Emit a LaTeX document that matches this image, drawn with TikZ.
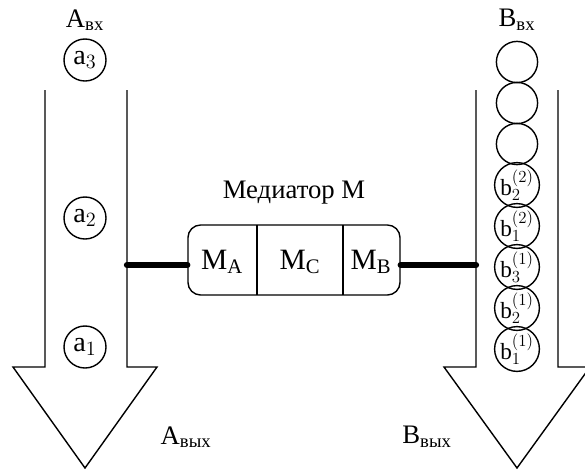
\documentclass[tikz,border=0pt]{standalone}
\usepackage{fontspec}
\setmainfont{Liberation Serif}
\usetikzlibrary{positioning}

\tikzset{
  ball/.style={draw, circle, line width=1pt, minimum size=1.03cm, inner sep=0pt, font=\fontsize{16.5}{16}\selectfont},
  flow/.style={line width=1pt, line join=miter},
  link/.style={line width=4.5pt, line cap=round},
  lbl/.style={font=\fontsize{19}{20}\selectfont, inner sep=0pt},
  part/.style={font=\fontsize{21}{22}\selectfont, inner sep=0pt},
}
\newcommand{\bb}[2]{b$_{#1}^{(#2)}$}

\begin{document}
\begin{tikzpicture}[x=0.025cm, y=-0.025cm]
		\useasboundingbox (0,0) rectangle (585,475);
		
		% the two flows
		\draw[flow] (45,90) -- (45,367) -- (13,367) -- (85,468) -- (157,367) -- (127,367) -- (127,90);
		\draw[flow] (476,90) -- (476,367) -- (444,367) -- (517,468) -- (590,367) -- (558,367) -- (558,90);
		\coordinate (aR) at (127,265);
		\coordinate (bL) at (476,265);
		
		\node[lbl] (ain) at (85,20) {A\textsubscript{вх}};
		\node[lbl] (bin) at (517,20) {B\textsubscript{вх}};
		\node[lbl] (aout) at (186,437) {A\textsubscript{вых}};
		\node[lbl] (bout) at (427,437) {B\textsubscript{вых}};
		
		% elements of A
		\node[ball, minimum size=1.05cm, font=\fontsize{20}{20}\selectfont] (a3) at (85,60) {a$_3$};
		\node[ball, minimum size=1.05cm, font=\fontsize{20}{20}\selectfont] (a2) at (85,218) {a$_2$};
		\node[ball, minimum size=1.05cm, font=\fontsize{20}{20}\selectfont] (a1) at (85,347) {a$_1$};
		
		% queue of B
		\foreach \n/\y/\t in {b8/62/{}, b7/103/{}, b6/144/{}, b5/185/{\bb22}, b4/226/{\bb12},
		                       b3/267/{\bb31}, b2/308/{\bb21}, b1/349/{\bb11}}
			\node[ball] (\n) at (517,\y) {\t};
		
		% mediator
		\node[draw, line width=1pt, rounded corners=9pt, minimum width=5.3cm, minimum height=1.75cm] (med) at (294,260) {};
		\draw[flow] (257,225) -- (257,295);
		\draw[flow] (343,225) -- (343,295);
		\node[part] (mA) at (222,262) {M$_\mathrm{A}$};
		\node[part] (mC) at (300,262) {M$_\mathrm{C}$};
		\node[part] (mB) at (371,262) {M$_\mathrm{B}$};
		\node[lbl, above=14pt of med.north] (mtitle) {Медиатор М};
		
		\draw[link] (aR) -- (aR -| med.west);
		\draw[link] (bL) -- (bL -| med.east);
\end{tikzpicture}
\end{document}
